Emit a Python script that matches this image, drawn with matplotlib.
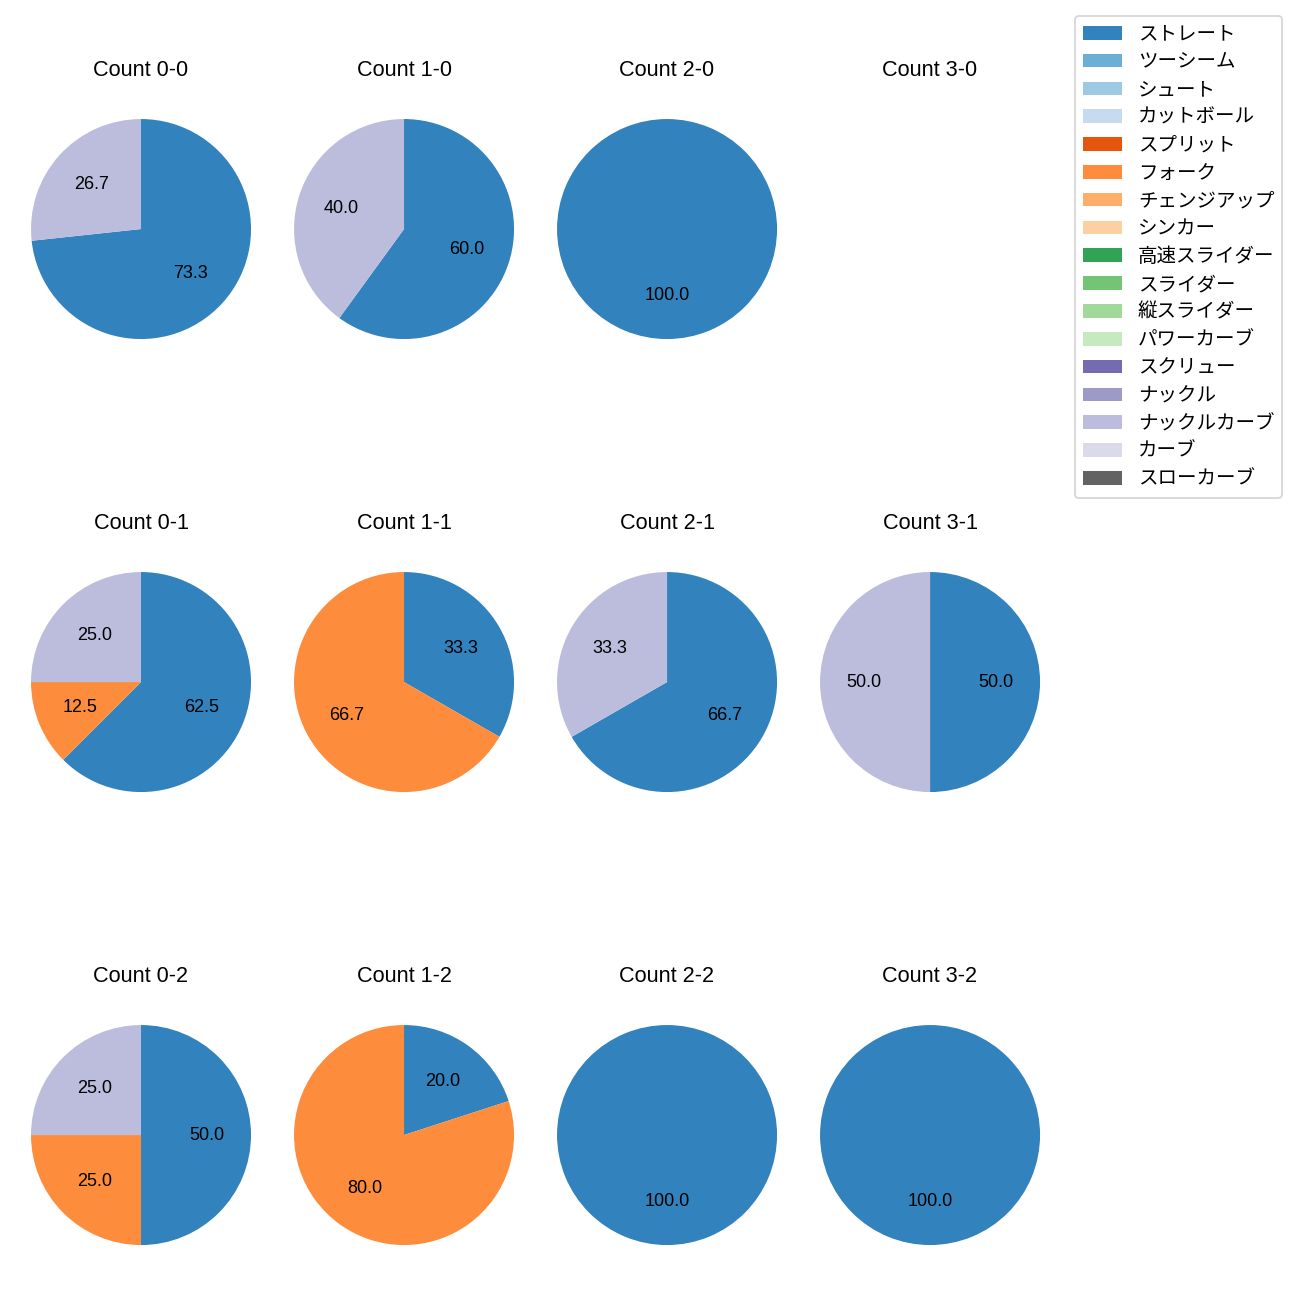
"""Pitch mix by ball-strike count, as a grid of pie charts."""

import matplotlib
matplotlib.use("Agg")
import matplotlib.pyplot as plt
from matplotlib.patches import Patch

plt.rcParams["font.family"] = ["Liberation Sans", "Noto Sans CJK JP", "DejaVu Sans"]

pitch_types = [
    "ストレート", "ツーシーム", "シュート", "カットボール", "スプリット",
    "フォーク", "チェンジアップ", "シンカー", "高速スライダー", "スライダー",
    "縦スライダー", "パワーカーブ", "スクリュー", "ナックル", "ナックルカーブ",
    "カーブ", "スローカーブ",
]
colors = list(plt.get_cmap("tab20c").colors[:16]) + ["#636363"]

# share of pitches per count (in %), keyed by pitch type name
counts = {
    "0-0": {"ストレート": 73.3, "ナックルカーブ": 26.7},
    "1-0": {"ストレート": 60.0, "ナックルカーブ": 40.0},
    "2-0": {"ストレート": 100.0},
    "3-0": {},
    "0-1": {"ストレート": 62.5, "フォーク": 12.5, "ナックルカーブ": 25.0},
    "1-1": {"ストレート": 33.3, "フォーク": 66.7},
    "2-1": {"ストレート": 66.7, "ナックルカーブ": 33.3},
    "3-1": {"ストレート": 50.0, "ナックルカーブ": 50.0},
    "0-2": {"ストレート": 50.0, "フォーク": 25.0, "ナックルカーブ": 25.0},
    "1-2": {"ストレート": 20.0, "フォーク": 80.0},
    "2-2": {"ストレート": 100.0},
    "3-2": {"ストレート": 100.0},
}

fig, axes = plt.subplots(3, 4, figsize=(10, 10))
fig.subplots_adjust(left=0.0027, right=0.8212, top=0.9392, bottom=0.0115,
                    wspace=-0.0436, hspace=0.51)

for ax, (count, mix) in zip(axes.flat, counts.items()):
    ax.set_title(f"Count {count}", pad=8.5)
    ax.set_aspect("equal")
    if not mix:
        ax.axis("off")
        continue
    names = [p for p in pitch_types if p in mix]
    vals = [mix[p] for p in names]
    cols = [colors[pitch_types.index(p)] for p in names]
    ax.pie(vals, colors=cols, autopct="%.1f", startangle=90, counterclock=False)

handles = [Patch(facecolor=c, label=p) for p, c in zip(pitch_types, colors)]
fig.legend(handles=handles, loc="upper right", bbox_to_anchor=(0.9938, 0.9954),
           prop={"family": ["Noto Sans CJK JP", "DejaVu Sans"], "size": 10.8},
           labelspacing=0.35)

fig.savefig("out.png", dpi=130)
plt.close(fig)
